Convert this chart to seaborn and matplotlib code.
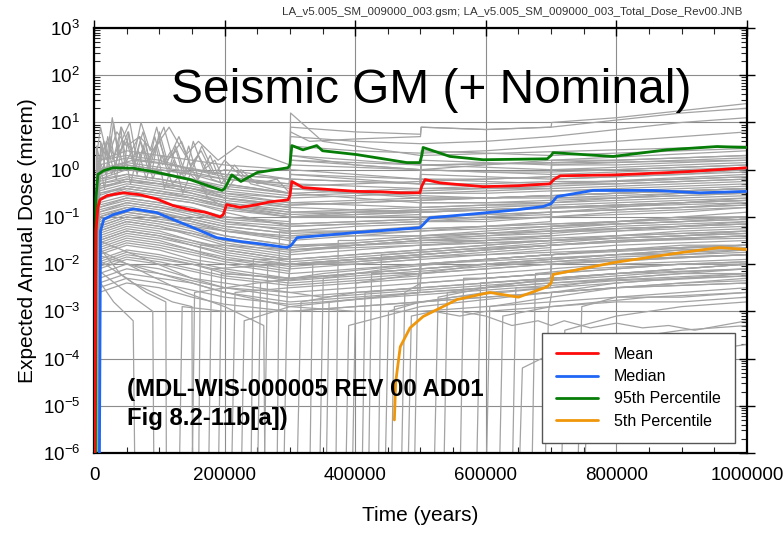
import numpy as np
import pandas as pd
import matplotlib
matplotlib.use("Agg")
import matplotlib.pyplot as plt
import seaborn as sns
from matplotlib.ticker import LogLocator, MultipleLocator, NullFormatter, FixedLocator

# ---------------- data (time in kyr, dose as log10 mrem) ----------------
MEAN_T = [0, 3, 6, 9, 20, 44, 70, 96, 121, 147, 170, 193, 198, 203, 224, 250, 270, 297, 300, 303,
          320, 360, 402, 440, 469, 499, 502, 507, 530, 596, 650, 698, 705, 714, 800, 900, 1000]
MEAN_L = [-7, -1.3, -0.8, -0.64, -0.55, -0.49, -0.53, -0.62, -0.76, -0.85, -0.9, -1.0, -0.95, -0.74,
          -0.8, -0.74, -0.68, -0.64, -0.55, -0.25, -0.38, -0.42, -0.46, -0.47, -0.49, -0.49, -0.35,
          -0.21, -0.28, -0.36, -0.34, -0.30, -0.2, -0.13, -0.11, -0.05, 0.04]

MEDIAN_T = [0, 8, 10, 15, 30, 60, 96, 120, 147, 188, 224, 260, 296, 302, 311, 402, 499, 505, 514,
            571, 648, 688, 700, 709, 764, 856, 928, 1000]
MEDIAN_L = [-7, -7, -1.3, -1.05, -0.95, -0.83, -0.91, -1.05, -1.2, -1.44, -1.52, -1.58, -1.65, -1.6,
            -1.44, -1.33, -1.23, -1.15, -1.02, -0.95, -0.85, -0.78, -0.72, -0.57, -0.44, -0.44, -0.49, -0.46]

P95_T = [0, 2, 3, 6, 15, 29, 60, 90, 147, 196, 200, 211, 225, 250, 297, 300, 303, 320, 341, 350, 402,
         479, 499, 502, 504, 545, 596, 694, 700, 703, 795, 877, 954, 1000]
P95_L = [-7, -7, -0.6, -0.1, -0.02, 0.04, 0.03, -0.04, -0.21, -0.44, -0.4, -0.11, -0.25, -0.06, 0.04,
         0.1, 0.51, 0.42, 0.51, 0.4, 0.32, 0.15, 0.15, 0.3, 0.47, 0.28, 0.21, 0.23, 0.3, 0.36, 0.28,
         0.42, 0.49, 0.47]

P05_T = [460, 462, 469, 484, 504, 556, 606, 650, 694, 700, 703, 795, 897, 958, 1000]
P05_L = [-5.3, -4.5, -3.75, -3.35, -3.11, -2.75, -2.6, -2.7, -2.48, -2.4, -2.22, -1.97, -1.76, -1.65, -1.69]

# gray realizations on a common grid (kyr), starting near t=0
GRID_KYR = [8, 50, 100, 150, 200, 299, 301, 400, 499, 501, 600, 699, 701, 800, 900, 1000]
BAND_START = [1, 3, 5, 2, 6, 4, 7, 2, 5, 3, 1, 6, 4, 2, 7, 3, 5, 1, 6, 4, 2, 7, 3, 5,
              2, 4, 6, 1, 3, 5, 7, 2, 4, 6, 1, 3, 5, 7, 2, 4, 6, 1, 3, 5, 7, 2, 4, 6, 1, 3,
              5, 7, 2, 4, 6, 1, 3, 5, 7, 2]
BAND_LOG = [
    [-0.2, -0.1, -0.2, -0.3, -0.45, -0.6, -0.1, -0.2, -0.3, -0.3, -0.3, -0.25, -0.2, -0.15, -0.1, 0.0],
    [-0.5, -0.4, -0.5, -0.6, -0.8, -1.0, -1.0, -0.9, -0.85, -0.3, -0.35, -0.4, -0.4, -0.35, -0.3, -0.25],
    [-1.0, -0.8, -0.9, -1.1, -1.3, -1.5, -1.5, -1.4, -1.3, -1.3, -1.2, -1.1, -0.6, -0.6, -0.55, -0.5],
    [-0.1, 0.1, 0.0, -0.1, -0.2, -0.3, 0.2, 0.1, 0.0, 0.0, -0.05, -0.1, -0.1, -0.05, 0.0, 0.05],
    [-1.3, -1.1, -1.2, -1.4, -1.6, -1.8, -1.8, -1.7, -1.6, -1.6, -1.5, -1.4, -1.4, -1.3, -1.2, -1.15],
    [-0.8, -0.6, -0.7, -0.8, -1.0, -1.1, -0.5, -0.6, -0.7, -0.7, -0.7, -0.7, -0.7, -0.6, -0.5, -0.45],
    [-1.6, -1.4, -1.5, -1.7, -1.9, -2.1, -2.1, -2.0, -1.9, -1.1, -1.1, -1.0, -1.0, -0.9, -0.85, -0.8],
    [-0.4, -0.2, -0.3, -0.4, -0.5, -0.6, -0.6, -0.55, -0.5, -0.5, -0.45, -0.4, 0.1, 0.1, 0.15, 0.2],
    [-2.0, -1.8, -1.9, -2.0, -2.2, -2.3, -2.3, -2.2, -2.1, -2.1, -2.0, -1.9, -1.9, -1.8, -1.7, -1.65],
    [-1.1, -0.9, -1.0, -1.2, -1.4, -1.6, -1.0, -1.0, -1.0, -1.0, -0.95, -0.9, -0.9, -0.85, -0.8, -0.75],
    [0.2, 0.3, 0.2, 0.0, -0.1, -0.2, -0.2, -0.25, -0.3, 0.2, 0.15, 0.1, 0.1, 0.15, 0.2, 0.25],
    [-0.6, -0.5, -0.6, -0.7, -0.9, -1.2, -1.2, -1.15, -1.1, -1.1, -1.0, -0.9, -0.9, -0.8, -0.7, -0.6],
    [-1.4, -1.2, -1.3, -1.5, -1.7, -1.9, -1.4, -1.4, -1.4, -1.4, -1.35, -1.3, -1.3, -1.25, -1.2, -1.1],
    [-0.3, -0.2, -0.3, -0.5, -0.7, -0.9, -0.4, -0.5, -0.55, -0.55, -0.6, -0.6, -0.6, -0.55, -0.5, -0.5],
    [-1.8, -1.6, -1.7, -1.9, -2.0, -2.2, -2.2, -2.1, -2.0, -2.0, -1.9, -1.8, -1.3, -1.3, -1.25, -1.2],
    [-0.9, -0.7, -0.8, -0.9, -1.1, -1.3, -1.3, -1.2, -1.15, -0.7, -0.7, -0.65, -0.65, -0.6, -0.55, -0.5],
    [-2.2, -2.0, -2.1, -2.3, -2.5, -2.6, -2.6, -2.5, -2.4, -2.4, -2.3, -2.2, -2.2, -2.1, -2.0, -2.0],
    [0.0, 0.1, 0.0, -0.1, -0.3, -0.5, 0.3, 0.2, 0.1, 0.4, 0.35, 0.3, 0.3, 0.35, 0.4, 0.45],
    [-1.2, -1.0, -1.1, -1.2, -1.3, -1.4, -1.4, -1.3, -1.25, -1.25, -1.2, -1.15, -1.15, -1.1, -1.0, -0.9],
    [-0.7, -0.55, -0.6, -0.7, -0.85, -1.0, -1.0, -0.95, -0.9, -0.9, -0.85, -0.8, -0.8, -0.75, -0.7, -0.65],
    [-1.5, -1.3, -1.4, -1.6, -1.8, -2.0, -2.0, -1.9, -1.8, -1.8, -1.7, -1.6, -1.6, -1.5, -1.45, -1.4],
    [-0.2, 0.0, -0.1, -0.2, -0.35, -0.5, -0.5, -0.45, -0.4, -0.4, -0.35, -0.3, -0.3, -0.25, -0.2, -0.15],
    [-2.4, -2.2, -2.3, -2.4, -2.6, -2.8, -2.8, -2.7, -2.6, -2.6, -2.5, -2.4, -2.4, -2.3, -2.2, -2.2],
    [-1.0, -0.85, -0.95, -1.05, -1.2, -1.35, -0.8, -0.85, -0.9, -0.9, -0.85, -0.8, -0.3, -0.3, -0.25, -0.2],
    [-0.35, -0.25, -0.3, -0.4, -0.6, -0.75, -0.75, -0.7, -0.65, -0.65, -0.6, -0.55, -0.55, -0.5, -0.45, -0.4],
    [-0.9, -0.75, -0.85, -1.0, -1.15, -1.25, -0.7, -0.75, -0.8, -0.8, -0.75, -0.75, -0.75, -0.7, -0.65, -0.6],
    [-1.7, -1.5, -1.6, -1.75, -1.9, -2.0, -2.0, -1.95, -1.85, -1.4, -1.35, -1.3, -1.3, -1.2, -1.15, -1.1],
    [-0.15, 0.05, -0.05, -0.2, -0.4, -0.55, -0.55, -0.5, -0.45, -0.45, -0.4, -0.4, 0.0, 0.0, 0.05, 0.1],
    [-1.25, -1.05, -1.15, -1.3, -1.5, -1.7, -1.7, -1.6, -1.5, -1.5, -1.45, -1.4, -0.9, -0.85, -0.8, -0.75],
    [-0.55, -0.35, -0.45, -0.6, -0.75, -0.95, -0.3, -0.35, -0.4, -0.4, -0.4, -0.35, -0.35, -0.3, -0.25, -0.2],
    [-2.1, -1.9, -2.0, -2.15, -2.3, -2.45, -2.45, -2.35, -2.25, -1.6, -1.55, -1.5, -1.5, -1.4, -1.35, -1.3],
    [-1.9, -1.7, -1.8, -1.95, -2.1, -2.3, -1.7, -1.65, -1.6, -1.6, -1.55, -1.5, -1.5, -1.45, -1.4, -1.35],
    [-0.05, 0.15, 0.05, -0.05, -0.2, -0.35, -0.35, -0.3, -0.25, -0.25, -0.2, -0.15, -0.15, -0.1, -0.05, 0.0],
    [-1.35, -1.15, -1.25, -1.35, -1.55, -1.75, -1.75, -1.6, -1.5, -1.0, -0.95, -0.9, -0.9, -0.85, -0.8, -0.7],
    [-0.75, -0.6, -0.7, -0.85, -1.0, -1.15, -1.15, -1.1, -1.05, -1.05, -1.0, -0.95, -0.45, -0.45, -0.4, -0.35],
    [-2.3, -2.1, -2.2, -2.35, -2.5, -2.7, -2.7, -2.6, -2.5, -2.5, -2.4, -2.3, -1.8, -1.7, -1.65, -1.6],
    [-1.05, -0.9, -1.0, -1.1, -1.25, -1.45, -1.45, -1.35, -1.3, -1.3, -1.25, -1.2, -1.2, -1.15, -1.1, -1.05],
    [-0.45, -0.3, -0.4, -0.5, -0.65, -0.8, -0.2, -0.25, -0.3, 0.1, 0.05, 0.0, 0.0, 0.05, 0.1, 0.15],
    [-1.55, -1.35, -1.45, -1.6, -1.75, -1.95, -1.95, -1.85, -1.75, -1.75, -1.65, -1.55, -1.55, -1.45, -1.4, -1.35],
    [-0.65, -0.45, -0.55, -0.65, -0.8, -0.95, -0.95, -0.9, -0.85, -0.85, -0.8, -0.75, -0.25, -0.25, -0.2, -0.15],
    [-1.95, -1.75, -1.85, -2.0, -2.15, -2.35, -2.35, -2.25, -2.15, -2.15, -2.05, -1.95, -1.95, -1.85, -1.8, -1.75],
    [-0.25, -0.1, -0.2, -0.35, -0.5, -0.7, -0.7, -0.65, -0.6, -0.1, -0.15, -0.2, -0.2, -0.15, -0.1, -0.05],
    [-1.15, -0.95, -1.05, -1.15, -1.3, -1.45, -0.9, -0.9, -0.9, -0.9, -0.85, -0.8, -0.8, -0.75, -0.7, -0.65],
    [-0.85, -0.7, -0.8, -0.95, -1.1, -1.2, -1.2, -1.15, -1.1, -1.1, -1.05, -1.0, -1.0, -0.95, -0.9, -0.8],
    [-1.45, -1.25, -1.35, -1.5, -1.65, -1.85, -1.3, -1.3, -1.25, -1.25, -1.2, -1.15, -1.15, -1.1, -1.05, -1.0],
    [-0.6, -0.4, -0.5, -0.6, -0.75, -0.9, -0.9, -0.85, -0.8, -0.8, -0.75, -0.7, -0.7, -0.65, -0.6, -0.55],
    [-2.5, -2.3, -2.4, -2.55, -2.7, -2.85, -2.85, -2.75, -2.65, -2.65, -2.55, -2.45, -2.45, -2.35, -2.3, -2.25],
    [-1.65, -1.45, -1.55, -1.7, -1.85, -2.05, -2.05, -1.95, -1.85, -1.85, -1.75, -1.65, -1.2, -1.15, -1.1, -1.05],
    [0.1, 0.25, 0.15, 0.0, -0.15, -0.3, 0.1, 0.05, 0.0, 0.0, -0.05, -0.05, -0.05, 0.0, 0.05, 0.1],
    [-0.95, -0.8, -0.9, -1.05, -1.2, -1.35, -1.35, -1.3, -1.2, -0.85, -0.85, -0.8, -0.8, -0.75, -0.7, -0.65],
    [-1.75, -1.55, -1.65, -1.8, -1.95, -2.15, -1.6, -1.6, -1.55, -1.55, -1.5, -1.45, -1.45, -1.4, -1.3, -1.25],
    [-0.4, -0.25, -0.35, -0.45, -0.6, -0.75, -0.75, -0.7, -0.65, -0.65, -0.6, -0.55, -0.55, -0.5, -0.45, -0.4],
    [-1.2, -1.0, -1.1, -1.25, -1.4, -1.6, -1.6, -1.55, -1.45, -1.45, -1.4, -1.35, -1.35, -1.25, -1.2, -1.15],
    [-2.05, -1.85, -1.95, -2.1, -2.25, -2.4, -2.4, -2.3, -2.2, -2.2, -2.1, -2.0, -2.0, -1.9, -1.85, -1.8],
    [-0.3, -0.15, -0.25, -0.4, -0.55, -0.7, -0.1, -0.15, -0.2, -0.2, -0.2, -0.15, 0.2, 0.2, 0.25, 0.3],
    [-1.5, -1.3, -1.4, -1.55, -1.7, -1.9, -1.9, -1.8, -1.7, -1.7, -1.6, -1.5, -1.5, -1.45, -1.4, -1.3],
    [-0.8, -0.65, -0.75, -0.9, -1.05, -1.15, -1.15, -1.1, -1.05, -0.6, -0.6, -0.55, -0.55, -0.5, -0.45, -0.4],
    [-2.6, -2.4, -2.5, -2.7, -2.85, -3.0, -3.0, -2.9, -2.8, -2.8, -2.7, -2.6, -2.6, -2.5, -2.45, -2.4],
    [-1.3, -1.1, -1.2, -1.35, -1.5, -1.65, -1.65, -1.55, -1.45, -1.45, -1.35, -1.25, -1.25, -1.15, -1.1, -1.0],
    [-0.5, -0.35, -0.45, -0.55, -0.7, -0.85, -0.4, -0.45, -0.5, -0.5, -0.5, -0.45, -0.45, -0.4, -0.35, -0.3],
]

# gray realizations with their own time points (kyr, log10 dose)
GRAY_EXTRA = [
    ([0, 4, 12, 18, 26, 33, 41, 47, 58, 66, 78, 90, 104, 120, 140, 170, 200, 300, 301, 500, 501, 700, 1000],
     [-7, -0.2, 0.5, -0.1, 0.7, 0.0, 0.9, 0.1, 0.4, -0.1, 0.6, -0.2, 0.3, -0.3, 0.0, -0.4, -0.6, -0.8, -0.4, -0.6, -0.2, -0.3, -0.1]),
    ([0, 6, 15, 22, 30, 38, 52, 60, 72, 86, 96, 110, 130, 150, 165, 185, 200, 230, 260, 300, 301, 400, 500, 700, 1000],
     [-7, 0.1, 0.6, 0.2, 1.0, 0.3, 0.8, 0.2, 1.0, 0.4, 0.9, 0.1, 0.7, 0.0, 0.5, -0.1, 0.2, -0.2, -0.3, -0.4, 0.3, 0.1, 0.0, 0.2, 0.4]),
    ([0, 5, 10, 20, 28, 36, 45, 55, 64, 75, 85, 100, 115, 125, 140, 160, 180, 200, 300, 301, 350, 500, 1000],
     [-7, 0.4, 0.9, 0.3, 1.1, 0.4, 0.7, 1.0, 0.3, 0.8, 0.2, 0.6, 0.0, 0.5, -0.1, 0.3, -0.2, -0.3, -0.5, 1.2, 0.6, 0.3, 0.5]),
    ([0, 3, 8, 16, 24, 34, 44, 56, 68, 80, 95, 108, 122, 136, 150, 175, 200, 250, 300, 500, 1000],
     [-7, -0.5, 0.2, -0.4, 0.3, -0.2, 0.6, -0.3, 0.4, -0.2, 0.5, -0.4, 0.2, -0.5, 0.0, -0.6, -0.8, -0.9, -1.0, -0.9, -0.7]),
    ([0, 10, 20, 35, 50, 70, 90, 115, 140, 160, 190, 220, 260, 300, 301, 330, 400, 500, 501, 600, 700, 701, 800, 900, 1000],
     [-7, 0.6, 0.2, 0.8, 0.5, 0.7, 0.4, 0.9, 0.3, 0.6, 0.2, 0.5, 0.3, 0.1, 0.8, 0.6, 0.65, 0.7, 0.9, 0.85, 0.9, 1.0, 1.1, 1.25, 1.4]),
    ([0, 8, 50, 100, 200, 300, 301, 400, 500, 501, 600, 700, 800, 900, 1000],
     [-7, 0.2, 0.4, 0.3, 0.1, 0.0, 0.9, 0.8, 0.75, 0.9, 0.85, 0.9, 1.05, 1.2, 1.3]),
    ([0, 5, 60, 120, 200, 300, 301, 400, 500, 600, 700, 800, 900, 1000],
     [-7, 0.0, 0.2, 0.1, -0.1, -0.2, 0.7, 0.6, 0.55, 0.6, 0.7, 0.85, 1.0, 1.1]),
    ([0, 5, 14, 21, 29, 37, 46, 53, 62, 71, 83, 93, 105, 118, 132, 145, 160, 178, 195, 215, 240, 270, 300, 301, 500, 1000],
     [-7, 0.3, 0.0, 0.7, 0.2, 0.5, 0.0, 0.8, 0.1, 0.6, 0.0, 0.7, 0.1, 0.4, -0.1, 0.5, -0.2, 0.3, -0.3, 0.1, -0.3, -0.4, -0.5, 0.2, 0.1, 0.2]),
    ([0, 7, 17, 27, 40, 50, 63, 76, 88, 100, 112, 126, 138, 152, 168, 185, 205, 225, 250, 280, 300, 301, 400, 500, 501, 700, 1000],
     [-7, 0.0, 0.5, -0.1, 0.4, 0.6, 0.0, 0.5, -0.1, 0.8, 0.2, 0.4, -0.2, 0.6, 0.0, 0.2, -0.4, 0.0, -0.3, -0.2, -0.5, 0.0, -0.1, -0.2, 0.1, 0.15, 0.3]),
    ([0, 4, 9, 19, 31, 42, 57, 69, 82, 94, 107, 119, 134, 148, 164, 182, 200, 300, 301, 400, 500, 600, 700, 800, 1000],
     [-7, 0.5, 0.2, 0.6, 0.3, 0.9, 0.4, 0.7, 0.2, 0.5, 0.9, 0.3, 0.6, 0.1, 0.4, -0.1, 0.0, -0.2, 0.5, 0.4, 0.35, 0.4, 0.5, 0.6, 0.8]),
    ([0, 4, 100, 200, 300, 400, 500, 600, 700, 800, 900, 1000],
     [-7, -1.8, -2.2, -2.6, -2.9, -3.0, -3.0, -2.9, -2.8, -2.7, -2.7, -2.6]),
    ([0, 6, 80, 150, 250, 350, 450, 550, 650, 750, 850, 1000],
     [-7, -1.5, -1.9, -2.3, -2.5, -2.7, -2.6, -2.5, -2.4, -2.3, -2.2, -2.1]),
    ([160, 163, 200, 299, 301, 400, 499, 501, 600, 699, 701, 800, 900, 1000],
     [-7, -1.6, -1.6, -1.7, -1.7, -1.6, -1.5, -1.5, -1.4, -1.3, -1.3, -1.25, -1.2, -1.15]),
    ([240, 244, 299, 301, 400, 499, 501, 600, 699, 701, 800, 900, 1000],
     [-7, -1.9, -1.9, -1.9, -1.8, -1.7, -1.7, -1.6, -1.5, -1.5, -1.4, -1.35, -1.3]),
    ([330, 335, 400, 499, 501, 600, 699, 701, 800, 900, 1000],
     [-7, -2.0, -2.0, -1.9, -1.9, -1.8, -1.7, -1.7, -1.6, -1.55, -1.5]),
    ([420, 425, 499, 501, 600, 699, 701, 800, 900, 1000],
     [-7, -2.2, -2.2, -1.5, -1.5, -1.4, -1.2, -1.1, -1.0, -1.0]),
    ([470, 476, 501, 600, 699, 701, 800, 900, 1000],
     [-7, -2.6, -2.4, -2.3, -2.2, -2.2, -2.1, -2.0, -1.95]),
    ([560, 566, 600, 699, 701, 800, 900, 1000],
     [-7, -2.3, -2.3, -2.2, -1.8, -1.7, -1.6, -1.6]),
    ([640, 646, 699, 701, 800, 900, 1000],
     [-7, -2.5, -2.5, -2.3, -2.2, -2.1, -2.0]),
    ([190, 195, 299, 301, 400, 499, 501, 600, 699, 701, 800, 900, 1000],
     [-7, -2.2, -2.3, -2.3, -2.2, -2.1, -2.1, -2.0, -1.9, -1.9, -1.8, -1.8, -1.7]),
    ([280, 284, 299, 301, 400, 499, 501, 600, 699, 701, 800, 900, 1000],
     [-7, -1.3, -1.3, -1.0, -1.0, -0.95, -0.6, -0.6, -0.55, -0.55, -0.5, -0.45, -0.4]),
    ([370, 374, 400, 499, 501, 600, 699, 701, 800, 900, 1000],
     [-7, -1.5, -1.5, -1.4, -1.4, -1.3, -1.2, -1.2, -1.1, -1.05, -1.0]),
    ([690, 696, 701, 800, 900, 1000],
     [-7, -3.0, -2.6, -2.4, -2.3, -2.2]),
    ([740, 747, 800, 900, 1000],
     [-7, -2.9, -2.7, -2.6, -2.5]),
    ([210, 216, 300, 400, 500, 600, 700, 800, 900, 1000],
     [-7, -2.6, -2.5, -2.4, -2.3, -2.2, -2.1, -2.0, -1.95, -1.9]),
    ([260, 266, 300, 400, 500, 600, 700, 800, 900, 1000],
     [-7, -2.0, -2.0, -1.9, -1.8, -1.7, -1.6, -1.5, -1.45, -1.4]),
    ([310, 317, 400, 500, 600, 700, 800, 900, 1000],
     [-7, -2.8, -2.6, -2.5, -2.4, -2.3, -2.2, -2.15, -2.1]),
    ([395, 401, 500, 600, 700, 800, 900, 1000],
     [-7, -2.4, -2.2, -2.0, -1.9, -1.8, -1.7, -1.7]),
    ([445, 451, 500, 600, 700, 800, 900, 1000],
     [-7, -3.0, -2.8, -2.6, -2.5, -2.3, -2.2, -2.1]),
    ([520, 527, 600, 700, 800, 900, 1000],
     [-7, -2.7, -2.5, -2.3, -2.2, -2.1, -2.0]),
    ([600, 606, 700, 800, 900, 1000],
     [-7, -2.9, -2.7, -2.5, -2.4, -2.3]),
    ([130, 135, 200, 300, 400, 500, 600, 700, 800, 900, 1000],
     [-7, -2.9, -3.0, -3.0, -2.9, -2.8, -2.7, -2.6, -2.5, -2.45, -2.4]),
    ([560, 600, 640, 680, 700, 720, 760, 800, 840, 880, 920, 960, 1000],
     [-3.0, -3.1, -3.3, -3.2, -3.3, -3.2, -3.35, -3.25, -3.35, -3.3, -3.4, -3.3, -3.2]),
    ([480, 486, 520, 560, 600, 700, 800, 900, 1000],
     [-7, -3.1, -3.0, -3.1, -3.0, -2.9, -2.8, -2.8, -2.7]),
    ([750, 756, 800, 850, 900, 950, 1000],
     [-7, -4.6, -4.2, -4.0, -3.9, -3.8, -3.7]),
    ([650, 656, 700, 800, 900, 1000],
     [-7, -4.2, -3.9, -3.6, -3.4, -3.3]),
    ([150, 154, 250, 400, 600, 800, 1000], [-7, -2.6, -2.4, -2.2, -2.0, -1.9, -1.8]),
    ([175, 180, 300, 500, 700, 1000], [-7, -2.1, -2.0, -1.8, -1.6, -1.4]),
    ([225, 230, 300, 500, 700, 1000], [-7, -3.2, -2.9, -2.6, -2.4, -2.2]),
    ([250, 255, 350, 500, 700, 1000], [-7, -2.4, -2.2, -2.0, -1.8, -1.6]),
    ([290, 296, 301, 400, 600, 800, 1000], [-7, -2.5, -2.0, -1.9, -1.8, -1.7, -1.6]),
    ([345, 351, 450, 600, 800, 1000], [-7, -2.3, -2.1, -1.9, -1.7, -1.6]),
    ([355, 360, 499, 501, 700, 1000], [-7, -2.8, -2.6, -2.2, -2.0, -1.8]),
    ([385, 390, 500, 700, 900, 1000], [-7, -3.3, -2.9, -2.6, -2.4, -2.35]),
    ([410, 415, 499, 501, 650, 800, 1000], [-7, -2.6, -2.5, -2.0, -1.9, -1.8, -1.7]),
    ([435, 440, 550, 700, 850, 1000], [-7, -1.8, -1.7, -1.6, -1.5, -1.45]),
    ([455, 460, 550, 700, 850, 1000], [-7, -2.9, -2.7, -2.5, -2.35, -2.25]),
    ([490, 496, 501, 600, 800, 1000], [-7, -2.3, -2.0, -1.9, -1.7, -1.6]),
    ([535, 541, 650, 800, 1000], [-7, -2.6, -2.4, -2.2, -2.0]),
    ([585, 592, 699, 701, 850, 1000], [-7, -2.4, -2.3, -2.0, -1.9, -1.8]),
    ([620, 626, 700, 850, 1000], [-7, -3.1, -2.9, -2.7, -2.6]),
    ([670, 676, 750, 900, 1000], [-7, -2.2, -2.1, -2.0, -1.95]),
    ([715, 721, 800, 900, 1000], [-7, -3.4, -3.1, -2.9, -2.8]),
    ([0, 5, 40, 80, 110, 111], [-7, -1.6, -2.2, -2.6, -2.8, -7]),
    ([0, 6, 60, 120, 150, 151], [-7, -1.9, -2.4, -2.8, -2.9, -7]),
    ([0, 4, 50, 90, 92], [-7, -2.1, -2.6, -3.0, -7]),
    ([0, 7, 80, 140, 200, 260, 262], [-7, -1.7, -2.2, -2.6, -2.9, -3.3, -7]),
    ([0, 5, 30, 60, 63], [-7, -2.3, -2.8, -3.2, -7]),
]

TOP_NOTE = "LA_v5.005_SM_009000_003.gsm; LA_v5.005_SM_009000_003_Total_Dose_Rev00.JNB"
TITLE_TEXT = "Seismic GM (+ Nominal)"
REF_TEXT = "(MDL-WIS-000005 REV 00 AD01\nFig 8.2-11b[a])"
X_LABEL = "Time (years)"
Y_LABEL = "Expected Annual Dose (mrem)"
X_TICKS = [0, 200000, 400000, 600000, 800000, 1000000]

# ---------------- build frames ----------------
rows = []
run = 0
for s, vals in zip(BAND_START, BAND_LOG):
    rows.append((run, s * 1000.0, 10.0 ** -7))
    for t, v in zip(GRID_KYR, vals):
        rows.append((run, t * 1000.0, 10.0 ** v))
    run += 1
for ts, ls in GRAY_EXTRA:
    for t, v in zip(ts, ls):
        rows.append((run, t * 1000.0, 10.0 ** v))
    run += 1
gray_df = pd.DataFrame(rows, columns=["run", "t", "dose"])


def frame(ts, ls):
    return pd.DataFrame({"t": np.array(ts) * 1000.0, "dose": 10.0 ** np.array(ls)})


sns.set_theme(style="white")
plt.rcParams["font.family"] = ["Liberation Sans", "DejaVu Sans"]
plt.rcParams["mathtext.default"] = "regular"
plt.rcParams["text.color"] = "black"
plt.rcParams["axes.labelcolor"] = "black"

fig = plt.figure(figsize=(7.83, 5.34), dpi=100)
ax = fig.add_axes([94 / 783, 1 - 453 / 534, (747 - 94) / 783, (453 - 28) / 534])

sns.lineplot(data=gray_df, x="t", y="dose", units="run", estimator=None, sort=False,
             color="#a3a3a3", lw=0.9, ax=ax, legend=False, zorder=2)

series = [
    (MEDIAN_T, MEDIAN_L, "#1f66f5", "Median", 3),
    (P95_T, P95_L, "#067d06", "95th Percentile", 3),
    (P05_T, P05_L, "#f0960a", "5th Percentile", 3),
    (MEAN_T, MEAN_L, "#ff0a0a", "Mean", 4),
]
for ts, ls, col, lab, z in series:
    sns.lineplot(data=frame(ts, ls), x="t", y="dose", sort=False, color=col, lw=2.0,
                 ax=ax, label=lab, zorder=z)

ax.set_yscale("log")
ax.set_xlim(0, 1000000)
ax.set_ylim(1e-6, 1e3)

ax.xaxis.set_major_locator(FixedLocator(X_TICKS))
ax.xaxis.set_minor_locator(MultipleLocator(50000))
ax.set_xticklabels([str(v) for v in X_TICKS])
ax.yaxis.set_major_locator(LogLocator(base=10, numticks=20))
ax.yaxis.set_minor_locator(LogLocator(base=10, subs=np.arange(2, 10), numticks=20))
ax.yaxis.set_minor_formatter(NullFormatter())

ax.grid(True, which="major", color="#8c8c8c", lw=0.8, zorder=1)
ax.set_axisbelow(True)
for sp in ax.spines.values():
    sp.set_color("black")
    sp.set_linewidth(1.6)

ax.tick_params(axis="both", which="major", direction="inout", length=12, width=1.0,
               labelsize=13.5, colors="black", pad=4, top=True, right=True)
ax.tick_params(axis="both", which="minor", direction="in", length=4, width=0.8,
               top=True, right=True, bottom=True, left=True)

ax.set_xlabel(X_LABEL, fontsize=15, labelpad=16)
ax.set_ylabel(Y_LABEL, fontsize=15, labelpad=4)

ax.text(0.516, 0.853, TITLE_TEXT, transform=ax.transAxes, fontsize=34.5,
        ha="center", va="center", color="black", zorder=6)
ax.text(0.05, 0.115, REF_TEXT, transform=ax.transAxes, fontsize=17.2, fontweight="bold",
        ha="left", va="center", linespacing=1.3, color="black", zorder=6)
fig.text(742 / 783, 1 - 12 / 534, TOP_NOTE, fontsize=8.25, ha="right", va="center",
         color="#333333")

h, l = ax.get_legend_handles_labels()
order = ["Mean", "Median", "95th Percentile", "5th Percentile"]
hh = [h[l.index(o)] for o in order]
leg = ax.legend(hh, order, loc="lower right", bbox_to_anchor=(0.982, 0.0235), borderaxespad=0,
                fontsize=11.5, frameon=True, fancybox=False, edgecolor="#555555", framealpha=1,
                handlelength=2.6, borderpad=0.9, labelspacing=0.45, handletextpad=1.0)
leg.get_frame().set_linewidth(1.0)
leg.set_zorder(7)

fig.savefig("out.png", dpi=100)
